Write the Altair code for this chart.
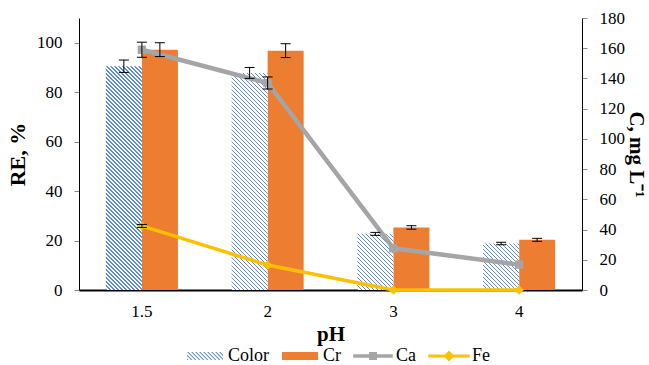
import altair as alt
import pandas as pd

# ---------------- data ----------------
ph = ["1.5", "2", "3", "4"]
color_re = [90.5, 87.8, 22.7, 18.8]
color_err = [2.5, 2.2, 0.6, 0.5]
cr_re = [97.2, 96.8, 25.3, 20.3]
cr_err = [2.8, 2.8, 0.7, 0.6]
ca_c = [159.0, 137.0, 27.6, 16.8]
ca_err = [5.0, 4.0, 0.0, 0.0]
fe_c = [42.4, 16.5, 0.0, 0.0]
fe_err = [1.0, 0.0, 0.0, 0.0]

series_names = ["Color", "Cr", "Ca", "Fe"]
HATCH = "#5B8DD9"
ORANGE = "#ED7D31"
GREY = "#A5A5A5"
GOLD = "#FFC000"
series_colors = [HATCH, ORANGE, GREY, GOLD]

# ---------------- layout constants ----------------
W, H = 503, 272
RE_MAX, C_MAX = 110, 180
P_IN = 0.427
STEP = W / 4
SUB_W = STEP * (1 - P_IN) / 2
FONT = "Liberation Serif"


def hatch(w, h, pitch=4.0, frac=0.34, col=HATCH):
    """Diagonal stripe fill as a hard-stop linear gradient for a w x h box."""
    r = w / h
    m = (r + 1) / (r * r + 1)
    period = pitch / (w + h)
    stops = []
    t = 0.0
    while t < 1 - 1e-9:
        t1 = min(t + period * frac, 1.0)
        t2 = min(t + period, 1.0)
        stops += [
            {"offset": round(t, 5), "color": col},
            {"offset": round(t1, 5), "color": col},
            {"offset": round(t1, 5), "color": "#ffffff"},
            {"offset": round(t2, 5), "color": "#ffffff"},
        ]
        t += period
    return {"gradient": "linear", "x1": 0, "y1": 1, "x2": m * r, "y2": 1 - m, "stops": stops}


def clip_x(poly, lo, hi):
    def clip(pts, inside, inter):
        out = []
        for i in range(len(pts)):
            a, b = pts[i - 1], pts[i]
            ia, ib = inside(a), inside(b)
            if ib:
                if not ia:
                    out.append(inter(a, b))
                out.append(b)
            elif ia:
                out.append(inter(a, b))
        return out

    def ix(xv):
        return lambda a, b: (xv, a[1] + (b[1] - a[1]) * (xv - a[0]) / (b[0] - a[0]))

    p = clip(poly, lambda q: q[0] >= lo, ix(lo))
    if p:
        p = clip(p, lambda q: q[0] <= hi, ix(hi))
    return p


def hatch_path(half_h=0.22, pitch=0.222, thick=0.08):
    parts = []
    c = -1.0 - 2 * half_h
    while c < 1.0 + half_h:
        d = thick
        poly = [(c - half_h, -half_h), (c + d - half_h, -half_h),
                (c + d + half_h, half_h), (c + half_h, half_h)]
        q = clip_x(poly, -1.0, 1.0)
        if len(q) >= 3:
            parts.append("M" + "L".join(f"{x:.3f},{y:.3f}" for x, y in q) + "Z")
        c += pitch
    return "".join(parts)


SHAPE_COLOR = hatch_path()
SHAPE_CR = "M-1,-0.22H1V0.22H-1Z"
SHAPE_CA = "M-1.1,-0.1H1.1V0.1H-1.1ZM-0.22,-0.22H0.22V0.22H-0.22Z"
SHAPE_FE = "M-1.15,-0.085H1.15V0.085H-1.15ZM0,-0.3L0.3,0L0,0.3L-0.3,0Z"

bars = pd.DataFrame({
    "pH": ph * 2,
    "series": ["Color"] * 4 + ["Cr"] * 4,
    "value": color_re + cr_re,
    "err": color_err + cr_err,
})
bars["lo"] = bars["value"] - bars["err"]
bars["hi"] = bars["value"] + bars["err"]

lines = pd.DataFrame({
    "pH": ph * 2,
    "series": ["Ca"] * 4 + ["Fe"] * 4,
    "value": ca_c + fe_c,
    "err": ca_err + fe_err,
})
lines["lo"] = lines["value"] - lines["err"]
lines["hi"] = lines["value"] + lines["err"]

# ---------------- encodings ----------------
x_enc = alt.X(
    "pH:N",
    sort=ph,
    scale=alt.Scale(domain=ph, paddingInner=P_IN, paddingOuter=P_IN / 2),
    axis=alt.Axis(
        title="pH", ticks=False, domainColor="black", domainWidth=2,
        labelFont=FONT, labelFontSize=17, labelColor="black", labelPadding=13, labelAngle=0,
        titleFont=FONT, titleFontSize=21, titleFontWeight="bold", titleColor="black", titlePadding=4,
    ),
)
xoff = alt.XOffset("series:N", scale=alt.Scale(domain=["Color", "Cr"], paddingInner=0, paddingOuter=0))

left_scale = alt.Scale(domain=[0, RE_MAX], nice=False, zero=True)
right_scale = alt.Scale(domain=[0, C_MAX], nice=False, zero=True)

left_axis = alt.Axis(
    title="RE, %", orient="left", values=[0, 20, 40, 60, 80, 100], grid=False,
    domainColor="black", tickColor="#8c8c8c", tickSize=5, labelPadding=12,
    labelFont=FONT, labelFontSize=17, labelColor="black",
    titleFont=FONT, titleFontSize=22, titleFontWeight="bold", titleColor="black", titlePadding=7,
)
right_axis = alt.Axis(
    title="C, mg L⁻¹", orient="right", values=list(range(0, 181, 20)), grid=False,
    domainColor="black", tickColor="#8c8c8c", tickSize=5, labelPadding=12,
    labelFont=FONT, labelFontSize=17, labelColor="black",
    titleFont=FONT, titleFontSize=21, titleFontWeight="bold", titleColor="black", titlePadding=1,
)

legend = alt.Legend(
    orient="none", legendX=108, legendY=320, direction="horizontal", title=None,
    symbolSize=1296, symbolStrokeWidth=0, symbolOpacity=1,
    labelFont=FONT, labelFontSize=18, labelColor="black",
    labelOffset=5, columnPadding=12,
)
color_enc = alt.Color("series:N", scale=alt.Scale(domain=series_names, range=series_colors), legend=legend)
shape_enc = alt.Shape(
    "series:N",
    scale=alt.Scale(domain=series_names, range=[SHAPE_COLOR, SHAPE_CR, SHAPE_CA, SHAPE_FE]),
    legend=legend,
)

# ---------------- layers ----------------
layers = []

# Cr bars (left axis shown here)
layers.append(
    alt.Chart(bars).transform_filter("datum.series === 'Cr'").mark_bar(opacity=1).encode(
        x=x_enc, xOffset=xoff,
        y=alt.Y("value:Q", scale=left_scale, axis=left_axis),
        color=color_enc,
    )
)

# Color bars (hatched, one per pH so each has its own stripe geometry)
for p, v in zip(ph, color_re):
    h = v * H / RE_MAX
    layers.append(
        alt.Chart(bars).transform_filter(f"datum.series === 'Color' && datum.pH === '{p}'")
        .mark_bar(fill=hatch(SUB_W, h), opacity=1)
        .encode(x=x_enc, xOffset=xoff, y=alt.Y("value:Q", scale=left_scale, axis=None))
    )

# Ca line (right axis shown here)
layers.append(
    alt.Chart(lines).transform_filter("datum.series === 'Ca'").mark_line(strokeWidth=4.5, color=GREY).encode(
        x=x_enc, y=alt.Y("value:Q", scale=right_scale, axis=right_axis),
    )
)
# Fe line
layers.append(
    alt.Chart(lines).transform_filter("datum.series === 'Fe'").mark_line(strokeWidth=3.5, color=GOLD).encode(
        x=x_enc, y=alt.Y("value:Q", scale=right_scale, axis=None),
    )
)
# Ca squares
layers.append(
    alt.Chart(lines).transform_filter("datum.series === 'Ca'")
    .mark_point(shape="square", filled=True, opacity=1, strokeWidth=0).encode(
        x=x_enc, y=alt.Y("value:Q", scale=right_scale, axis=None),
        color=color_enc, size=alt.value(70),
    )
)
# Fe diamonds
layers.append(
    alt.Chart(lines).transform_filter("datum.series === 'Fe'")
    .mark_point(shape="diamond", filled=True, opacity=1, strokeWidth=0).encode(
        x=x_enc, y=alt.Y("value:Q", scale=right_scale, axis=None),
        color=color_enc, size=alt.value(90),
    )
)
# zero-size points that carry the shape scale into the shared legend
layers.append(
    alt.Chart(lines).mark_point(filled=True, opacity=1, strokeWidth=0).encode(
        x=x_enc, y=alt.Y("value:Q", scale=right_scale, axis=None),
        color=color_enc, shape=shape_enc, size=alt.value(0),
    )
)

# error bars for bars
bar_err_base = alt.Chart(bars)
layers.append(
    bar_err_base.mark_rule(color="black", strokeWidth=1).encode(
        x=x_enc, xOffset=xoff,
        y=alt.Y("lo:Q", scale=left_scale, axis=None), y2="hi:Q",
    )
)
layers.append(
    bar_err_base.transform_fold(["lo", "hi"], as_=["k", "ev"])
    .mark_tick(color="black", thickness=1, size=10, orient="horizontal", opacity=1).encode(
        x=x_enc, xOffset=xoff, y=alt.Y("ev:Q", scale=left_scale, axis=None),
    )
)

# error bars for lines
line_err_base = alt.Chart(lines).transform_filter("datum.err > 0")
layers.append(
    line_err_base.mark_rule(color="black", strokeWidth=1).encode(
        x=x_enc, y=alt.Y("lo:Q", scale=right_scale, axis=None), y2="hi:Q",
    )
)
layers.append(
    line_err_base.transform_fold(["lo", "hi"], as_=["k", "ev"])
    .mark_tick(color="black", thickness=1, size=10, orient="horizontal", opacity=1).encode(
        x=x_enc, y=alt.Y("ev:Q", scale=right_scale, axis=None),
    )
)

chart = (
    alt.layer(*layers)
    .resolve_scale(y="independent")
    .properties(
        width=W, height=H,
        autosize=alt.AutoSizeParams(type="none"),
        padding={"left": 79, "top": 18, "right": 67, "bottom": 75},
        background="white",
    )
    .configure(font=FONT)
    .configure_view(stroke=None)
    .configure_legend(labelFont=FONT, labelFontSize=18, labelColor="black")
    .configure_axis(labelFont=FONT, titleFont=FONT)
)

chart.save("out.html", embed_options={"renderer": "svg", "actions": False})
